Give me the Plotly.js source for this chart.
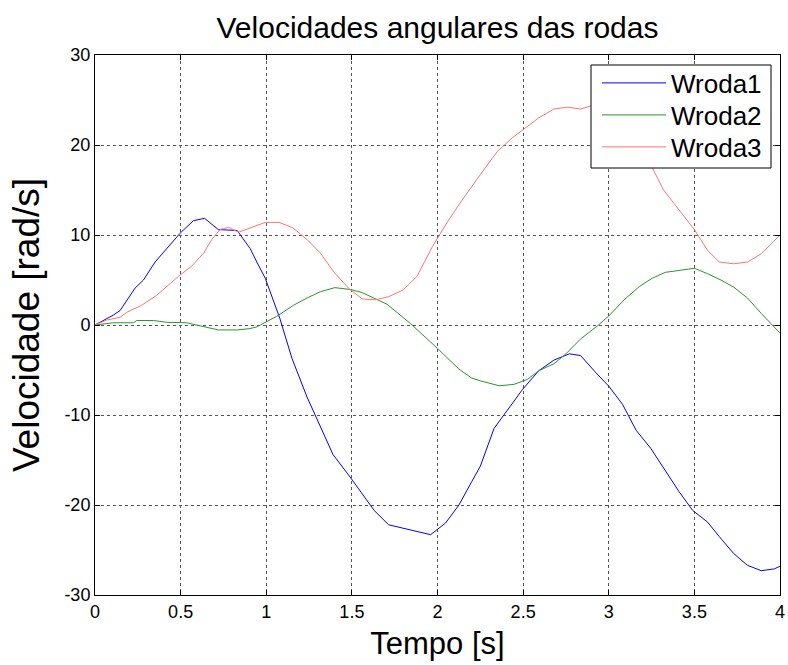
<!DOCTYPE html>
<html>
<head>
<meta charset="utf-8">
<script src="https://cdn.plot.ly/plotly-3.0.1.min.js"></script>
<style>html,body{margin:0;padding:0;background:#fff;}#chart{width:788px;height:665px;}</style>
</head>
<body>
<div id="chart"></div>
<script>
// Wroda1 (blue)
const t1 = [0, 0.107, 0.146, 0.234, 0.283, 0.351, 0.497, 0.575, 0.64, 0.72, 0.83, 0.906, 0.945, 0.994, 1.08, 1.15, 1.238, 1.39, 1.49, 1.63, 1.715, 1.96, 2.047, 2.125, 2.2, 2.25, 2.33, 2.417, 2.495, 2.59, 2.68, 2.77, 2.836, 2.92, 3.0, 3.08, 3.16, 3.245, 3.32, 3.41, 3.49, 3.577, 3.645, 3.73, 3.81, 3.89, 3.967, 4.0];
const w1 = [0, 1.1, 1.6, 4.1, 5.0, 7.0, 10.2, 11.6, 11.85, 10.6, 10.5, 8.5, 7.0, 5.2, 0.7, -3.7, -8.0, -14.4, -16.9, -20.6, -22.2, -23.3, -22.0, -20.0, -17.4, -15.7, -11.5, -9.3, -7.2, -5.1, -3.9, -3.2, -3.4, -5.2, -6.8, -8.8, -11.7, -13.7, -15.9, -18.5, -20.6, -21.9, -23.5, -25.4, -26.7, -27.3, -27.1, -26.8];
// Wroda2 (green)
const t2 = [0, 0.107, 0.224, 0.244, 0.34, 0.42, 0.536, 0.633, 0.72, 0.83, 0.906, 0.945, 0.984, 1.06, 1.16, 1.238, 1.316, 1.40, 1.49, 1.56, 1.706, 1.84, 2.0, 2.125, 2.2, 2.25, 2.36, 2.446, 2.525, 2.59, 2.68, 2.75, 2.836, 2.934, 3.0, 3.09, 3.18, 3.255, 3.33, 3.41, 3.5, 3.577, 3.655, 3.73, 3.81, 3.89, 3.967, 4.0];
const w2 = [0, 0.25, 0.25, 0.5, 0.5, 0.3, 0.25, -0.2, -0.55, -0.55, -0.4, -0.2, 0.2, 0.95, 2.2, 3.0, 3.7, 4.15, 3.95, 3.6, 2.3, 0.2, -2.6, -4.9, -5.9, -6.2, -6.75, -6.6, -6.05, -5.1, -4.3, -3.2, -1.55, -0.1, 1.0, 2.8, 4.3, 5.2, 5.85, 6.1, 6.3, 5.7, 5.0, 4.2, 3.0, 1.3, -0.2, -0.9];
// Wroda3 (red)
const t3 = [0, 0.068, 0.146, 0.185, 0.273, 0.36, 0.487, 0.565, 0.633, 0.682, 0.73, 0.78, 0.838, 0.906, 0.994, 1.075, 1.155, 1.238, 1.316, 1.394, 1.48, 1.56, 1.637, 1.715, 1.80, 1.88, 1.97, 2.056, 2.144, 2.25, 2.35, 2.437, 2.505, 2.59, 2.68, 2.758, 2.836, 2.905, 3.0, 3.1, 3.2, 3.26, 3.32, 3.41, 3.5, 3.577, 3.645, 3.73, 3.81, 3.89, 3.967, 4.0];
const w3 = [0, 0.55, 0.85, 1.4, 2.2, 3.3, 5.4, 6.55, 7.95, 9.5, 10.6, 10.85, 10.3, 10.75, 11.4, 11.4, 10.8, 9.5, 8.0, 5.9, 4.1, 2.9, 2.8, 3.15, 3.9, 5.4, 8.7, 11.4, 13.9, 16.7, 19.3, 20.8, 21.8, 23.0, 24.0, 24.2, 24.0, 24.4, 24.3, 22.5, 19.5, 17.2, 15.0, 12.8, 10.6, 8.3, 7.0, 6.8, 7.0, 7.9, 9.3, 10.0];

const seriesNames = ['Wroda1', 'Wroda2', 'Wroda3'];
const xTickVals = [0, 0.5, 1, 1.5, 2, 2.5, 3, 3.5, 4];
const xTickText = ['0', '0.5', '1', '1.5', '2', '2.5', '3', '3.5', '4'];
const yTickVals = [-30, -20, -10, 0, 10, 20, 30];
const yTickText = ['-30', '-20', '-10', '0', '10', '20', '30'];

const FONT = 'Liberation Sans, Arial, sans-serif';

const traces = [
  {x: t1, y: w1, name: seriesNames[0], mode: 'lines', line: {color: '#0000ff', width: 1}, legend: 'legend'},
  {x: t2, y: w2, name: seriesNames[1], mode: 'lines', line: {color: '#2a952a', width: 1}, legend: 'legend2'},
  {x: t3, y: w3, name: seriesNames[2], mode: 'lines', line: {color: '#ff7373', width: 1}, legend: 'legend3'}
];

const axisCommon = {
  showline: true, linecolor: '#000', linewidth: 1, mirror: 'ticks',
  ticks: 'inside', ticklen: 5, tickcolor: '#000', tickwidth: 1,
  showgrid: true, gridcolor: '#555555', gridwidth: 1, griddash: 'dot',
  zeroline: false, tickfont: {family: FONT, size: 18, color: '#000'}
};

function legendAt(rowY) {
  return {
    x: (597 - 95) / 685, xanchor: 'left', y: (595 - rowY) / 540, yanchor: 'middle',
    bgcolor: 'rgba(0,0,0,0)', borderwidth: 0,
    font: {family: FONT, size: 26, color: '#000'},
    itemwidth: 64
  };
}

const layout = {
  width: 788, height: 665,
  paper_bgcolor: '#fff', plot_bgcolor: '#fff',
  margin: {l: 95, r: 8, t: 55, b: 70},
  showlegend: true,
  title: {text: 'Velocidades angulares das rodas', font: {family: FONT, size: 30, color: '#000'},
          x: 0.5, xref: 'paper', y: 1 - 27/665, yref: 'container', yanchor: 'middle'},
  xaxis: Object.assign({}, axisCommon, {
    range: [0, 4], tickvals: xTickVals, ticktext: xTickText,
    title: {text: 'Tempo [s]', font: {family: FONT, size: 31, color: '#000'}, standoff: 11}
  }),
  yaxis: Object.assign({}, axisCommon, {
    range: [-30, 30], tickvals: yTickVals, ticktext: yTickText,
    title: {text: 'Velocidade [rad/s]', font: {family: FONT, size: 37, color: '#000'}, standoff: 13}
  }),
  shapes: [{
    type: 'rect', xref: 'paper', yref: 'paper', layer: 'above',
    x0: (591 - 95) / 685, x1: (771 - 95) / 685, y0: (595 - 168) / 540, y1: (595 - 65) / 540,
    fillcolor: '#fff', line: {color: '#000', width: 1}
  }],
  legend: legendAt(83),
  legend2: legendAt(115),
  legend3: legendAt(147)
};

Plotly.newPlot('chart', traces, layout, {displayModeBar: false, staticPlot: true});
</script>
</body>
</html>
